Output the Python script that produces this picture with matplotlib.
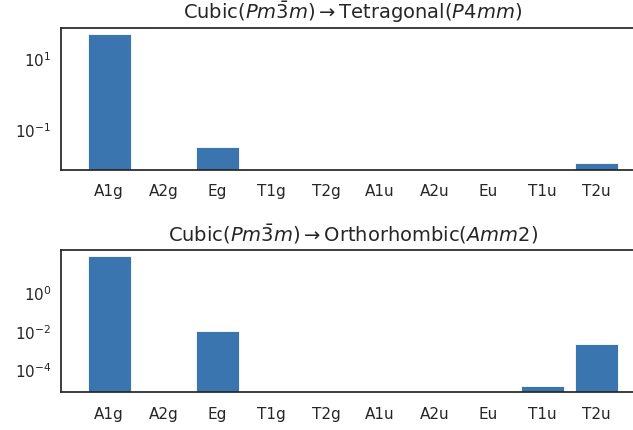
import matplotlib
matplotlib.use("Agg")
import matplotlib.pyplot as plt
import seaborn as sns
import numpy as np

sns.set_style("white")
plt.rcParams['font.family'] = ['DejaVu Sans']

labels = ["A1g", "A2g", "Eg", "T1g", "T2g", "A1u", "A2u", "Eu", "T1u", "T2u"]
tetragonal = [50.0, 0, 0.032, 0, 0, 0, 0, 0, 0, 0.011]
orthorhombic = [70.0, 0, 0.0094, 0, 0, 0, 0, 0, 1.4e-5, 0.0021]
titles = [r"Cubic($Pm\bar{3}m$)$\rightarrow$Tetragonal($P4mm$)",
          r"Cubic($Pm\bar{3}m$)$\rightarrow$Orthorhombic($Amm2$)"]

W, H = 633, 431
fig = plt.figure(figsize=(W / 100, H / 100), dpi=100)
left = 61 / W
right = 645 / W
ax1 = fig.add_axes([left, 1 - 170.5 / H, right - left, (170.5 - 28.5) / H])
ax2 = fig.add_axes([left, 1 - 393.3 / H, right - left, (393.3 - 251) / H])

color = "#3a75af"
for ax, vals, title in zip([ax1, ax2], [tetragonal, orthorhombic], titles):
    x = np.arange(len(labels))
    ax.bar(x, vals, width=0.8, color=color, edgecolor="white", linewidth=0.6)
    ax.set_yscale("log")
    ax.set_xticks(x)
    ax.set_xticklabels(labels, fontsize=11)
    ax.tick_params(axis="y", labelsize=11)
    ax.tick_params(axis="x", pad=6.5)
    ax.set_title(title, fontsize=14, pad=7)
    for s in ax.spines.values():
        s.set_color(".15")
        s.set_linewidth(1.25)

pos = [v for v in tetragonal if v > 0]
lo, hi = np.log10(min(pos)), np.log10(max(pos))
m = 0.05 * (hi - lo)
ax1.set_ylim(10 ** (lo - m), 10 ** (hi + m))
pos = [v for v in orthorhombic if v > 0]
lo, hi = np.log10(min(pos)), np.log10(max(pos))
m = 0.05 * (hi - lo)
ax2.set_ylim(10 ** (lo - m), 10 ** (hi + m))
ax2.set_yticks([1e-4, 1e-2, 1e0])
ax1.set_yticks([1e-1, 1e1])

fig.savefig("out.png", dpi=100)
